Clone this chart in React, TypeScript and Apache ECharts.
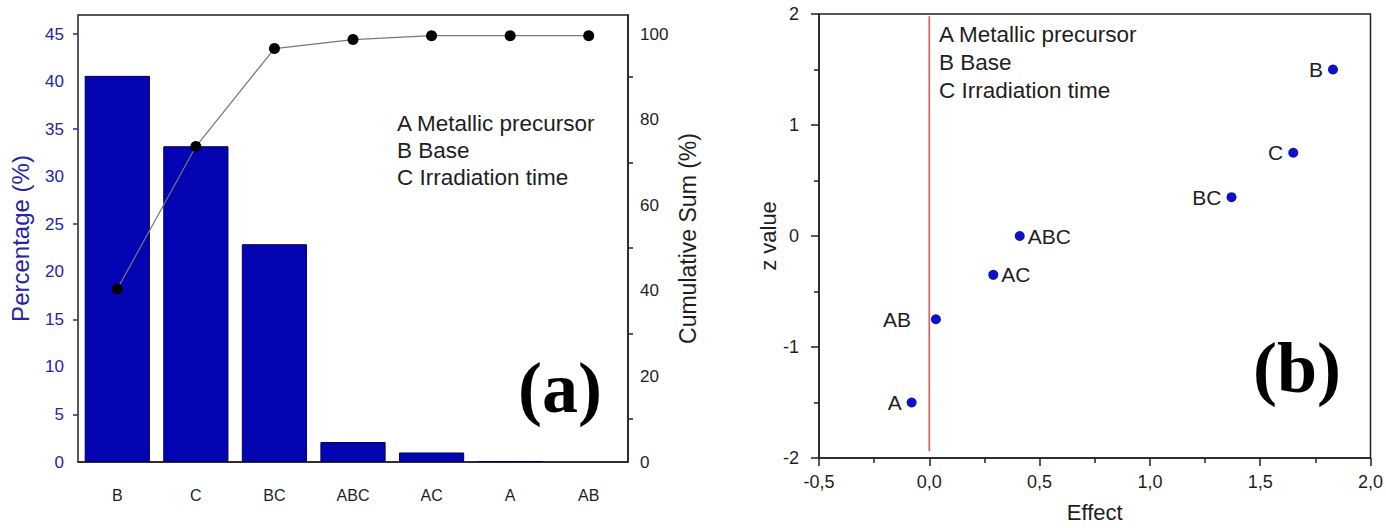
import React, { useEffect, useRef } from "react";
import * as echarts from "echarts";

const categories = ["B", "C", "BC", "ABC", "AC", "A", "AB"];
const percentages = [40.6, 33.2, 22.9, 2.1, 1.0, 0.1, 0.0];
const cumulative = [40.4, 73.7, 96.6, 98.7, 99.6, 99.6, 99.6];
const leftTicks = [0, 5, 10, 15, 20, 25, 30, 35, 40, 45];
const rightTicks = [0, 20, 40, 60, 80, 100];

const pointLabels = ["A", "AB", "AC", "ABC", "BC", "C", "B"];
const effects = [-0.08, 0.03, 0.29, 0.41, 1.37, 1.65, 1.83];
const zValues = [-1.5, -0.75, -0.35, 0, 0.35, 0.75, 1.5];
const labelSides = ["left", "left", "right", "right", "left", "left", "left"];
const labelGaps = [5, 20, 3, 3, 5, 5, 5];
const refLine = [[0, -1.94], [0, 1.98]];

const legendLines = ["A Metallic precursor", "B Base", "C Irradiation time"];

const FONT = "Liberation Sans, Arial, sans-serif";
const BLUE = "#2424a6";
const INK = "#1e1e1e";
const AX = { color: "#222", width: 1.5 };

export default function App() {
  const ref = useRef<HTMLDivElement>(null);
  useEffect(() => {
    const chart = echarts.init(ref.current!, null, { renderer: "svg" });
    const barData = percentages.map((v) => ({
      value: v,
      itemStyle: v > 0 ? {} : { borderWidth: 0 },
    }));
    const scatterData = effects.map((e, i) => ({
      value: [e, zValues[i]],
      label: { position: labelSides[i], distance: labelGaps[i], formatter: pointLabels[i] },
    }));
    const legendText = (x: number, y: number, gap: number) =>
      legendLines.map((t, i) => ({
        type: "text",
        left: x,
        top: y + i * gap,
        style: { text: t, font: `22.5px ${FONT}`, fill: INK },
      }));
    chart.setOption({
      animation: false,
      grid: [
        { left: 78, top: 15, width: 550, height: 447, show: true, borderColor: "#222", borderWidth: 1.5 },
        { left: 819, top: 14, width: 554, height: 448, show: true, borderColor: "#222", borderWidth: 1.5 },
      ],
      xAxis: [
        {
          type: "category",
          gridIndex: 0,
          data: categories,
          axisLine: { lineStyle: AX },
          axisTick: { alignWithLabel: true, length: 8, lineStyle: AX },
          axisLabel: { color: INK, fontSize: 16, fontFamily: FONT, margin: 25 },
        },
        {
          type: "category",
          gridIndex: 0,
          data: categories,
          position: "bottom",
          axisLine: { show: false },
          axisTick: { length: 5, lineStyle: AX },
          axisLabel: { show: false },
        },
        {
          type: "value",
          gridIndex: 1,
          min: -0.5,
          max: 2,
          interval: 0.5,
          name: "Effect",
          nameLocation: "middle",
          nameGap: 43,
          nameTextStyle: { fontSize: 22, color: INK, fontFamily: FONT },
          splitLine: { show: false },
          axisLine: { onZero: false, lineStyle: AX },
          axisTick: { length: 8, lineStyle: AX },
          minorTick: { show: true, splitNumber: 2, length: 5, lineStyle: AX },
          axisLabel: {
            color: INK,
            fontSize: 18,
            fontFamily: FONT,
            margin: 15,
            formatter: (v: number) => v.toFixed(1).replace(".", ","),
          },
        },
      ],
      yAxis: [
        {
          type: "value",
          gridIndex: 0,
          min: 0,
          max: 47,
          name: "Percentage (%)",
          nameLocation: "middle",
          nameRotate: 90,
          nameGap: 46,
          nameTextStyle: { fontSize: 24, color: BLUE, fontFamily: FONT },
          splitLine: { show: false },
          axisLine: { lineStyle: { color: BLUE, width: 1.5 } },
          axisTick: { length: 8, customValues: leftTicks, lineStyle: { color: BLUE, width: 1.5 } },
          minorTick: { show: true, splitNumber: 2, length: 5, lineStyle: { color: BLUE, width: 1.5 } },
          axisLabel: { color: BLUE, fontSize: 17, fontFamily: FONT, margin: 14, customValues: leftTicks },
        },
        {
          type: "value",
          gridIndex: 0,
          position: "right",
          min: 0,
          max: 104.44,
          name: "Cumulative Sum (%)",
          nameLocation: "middle",
          nameRotate: 90,
          nameGap: 48,
          nameTextStyle: { fontSize: 23, color: INK, fontFamily: FONT },
          splitLine: { show: false },
          axisLine: { show: true, lineStyle: AX },
          axisTick: { length: 8, customValues: rightTicks, lineStyle: AX },
          minorTick: { show: true, splitNumber: 2, length: 5, lineStyle: AX },
          axisLabel: { color: INK, fontSize: 17, fontFamily: FONT, margin: 12, customValues: rightTicks },
        },
        {
          type: "value",
          gridIndex: 1,
          min: -2,
          max: 2,
          interval: 1,
          name: "z value",
          nameLocation: "middle",
          nameRotate: 90,
          nameGap: 35,
          nameTextStyle: { fontSize: 22, color: INK, fontFamily: FONT },
          splitLine: { show: false },
          axisLine: { onZero: false, lineStyle: AX },
          axisTick: { length: 8, lineStyle: AX },
          minorTick: { show: true, splitNumber: 2, length: 5, lineStyle: AX },
          axisLabel: { color: INK, fontSize: 18, fontFamily: FONT, margin: 20 },
        },
      ],
      series: [
        {
          type: "bar",
          xAxisIndex: 0,
          yAxisIndex: 0,
          data: barData,
          barCategoryGap: "17%",
          itemStyle: { color: "#0404b2", borderColor: "#00005a", borderWidth: 1 },
        },
        {
          type: "line",
          xAxisIndex: 0,
          yAxisIndex: 1,
          data: cumulative,
          symbol: "circle",
          symbolSize: 11,
          itemStyle: { color: "#000" },
          lineStyle: { color: "#777", width: 1.2 },
        },
        {
          type: "line",
          xAxisIndex: 2,
          yAxisIndex: 2,
          data: refLine,
          symbol: "none",
          lineStyle: { color: "#d06a6a", width: 1.8 },
        },
        {
          type: "scatter",
          xAxisIndex: 2,
          yAxisIndex: 2,
          data: scatterData,
          symbolSize: 10,
          itemStyle: { color: "#0b14c4", opacity: 1 },
          label: { show: true, fontSize: 21, color: INK, fontFamily: FONT },
        },
      ],
      graphic: [
        ...legendText(397, 112, 27),
        ...legendText(939, 23, 28),
        {
          type: "text",
          left: 518,
          top: 352,
          style: { text: "(a)", font: `bold 72px Liberation Serif, Times New Roman, serif`, fill: "#000" },
        },
        {
          type: "text",
          left: 1253,
          top: 332,
          style: { text: "(b)", font: `bold 72px Liberation Serif, Times New Roman, serif`, fill: "#000" },
        },
      ],
    });
    return () => chart.dispose();
  }, []);
  return (
    <div
      ref={ref}
      style={{ position: "fixed", left: 0, top: 0, width: 1386, height: 528, background: "#fff" }}
    />
  );
}
